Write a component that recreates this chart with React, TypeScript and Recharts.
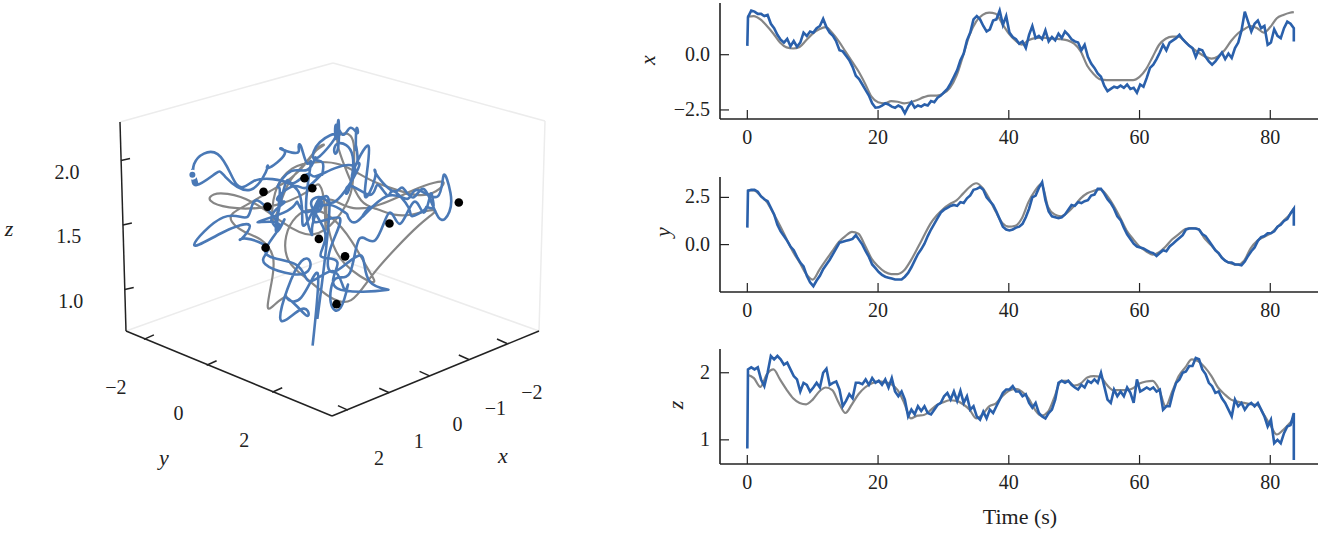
import React from 'react'
import { LineChart, Line, XAxis, YAxis, ReferenceLine, ReferenceDot } from 'recharts'

const SERIF = '"Liberation Serif", serif'
const INK = '#222222'
const BLUE = '#2a60ab'
const BLUE_3D = '#4a79b6'
const GRAY = '#868686'

const timeTicks = [0, 20, 40, 60, 80]

const grayTime = [
  0, 1, 2, 3, 4, 5, 6, 7, 8, 9, 10, 11, 12, 13, 14, 15, 16, 17, 18, 19,
  20, 21, 22, 23, 24, 25, 26, 27, 28, 29, 30, 31, 32, 33, 34, 35, 36, 37, 38, 39,
  40, 41, 42, 43, 44, 45, 46, 47, 48, 49, 50, 51, 52, 53, 54, 55, 56, 57, 58, 59,
  60, 61, 62, 63, 64, 65, 66, 67, 68, 69, 70, 71, 72, 73, 74, 75, 76, 77, 78, 79,
  80, 81, 82, 83, 83.6,
]

const grayX = [
  1.72, 1.75, 1.6, 1.3, 0.95, 0.55, 0.33, 0.28, 0.35, 0.65,
  0.95, 1.15, 1.25, 0.98, 0.6, 0.15, -0.3, -0.75, -1.3, -1.9,
  -2.15, -2.2, -2.1, -2.13, -2.2, -2.15, -2.05, -1.92, -1.85, -1.85,
  -1.75, -1.5, -0.95, -0.05, 0.9, 1.5, 1.8, 1.9, 1.85, 1.4,
  0.96, 0.65, 0.46, 0.65, 0.75, 0.77, 0.75, 0.72, 0.7, 0.65,
  0.5, 0.15, -0.5, -0.88, -1.12, -1.15, -1.15, -1.15, -1.15, -1.15,
  -1.0, -0.65, -0.1, 0.45, 0.72, 0.82, 0.82, 0.58, 0.32, 0.1,
  -0.08, -0.18, -0.08, 0.2, 0.62, 0.95, 1.15, 1.3, 1.2, 1.0,
  1.25, 1.65, 1.8, 1.9, 1.93,
]

const grayY = [
  2.87, 2.87, 2.6, 2.25, 1.65, 1.0, 0.3, -0.39, -0.95, -1.55,
  -1.85, -1.35, -0.83, -0.35, 0.14, 0.45, 0.67, 0.58, -0.05, -0.74,
  -1.15, -1.44, -1.56, -1.56, -1.36, -0.85, -0.21, 0.45, 1.1, 1.55,
  1.9, 2.15, 2.34, 2.7, 3.05, 3.25, 3.0, 2.43, 1.75, 1.15,
  0.95, 1.0, 1.4, 2.25, 2.85, 3.22, 2.0, 1.6, 1.5, 1.7,
  2.05, 2.45, 2.72, 2.85, 2.92, 2.6, 2.08, 1.45, 0.76, 0.3,
  -0.1, -0.35, -0.53, -0.4, -0.1, 0.28, 0.55, 0.82, 0.88, 0.82,
  0.3, -0.05, -0.45, -0.82, -1.0, -1.06, -0.85, -0.2, 0.2, 0.4,
  0.58, 0.9, 1.25, 1.6, 1.9,
]

const grayZ = [
  1.97, 1.92, 1.79, 1.98, 2.05, 1.9, 1.75, 1.62, 1.55, 1.53,
  1.6, 1.72, 1.78, 1.74, 1.55, 1.4, 1.53, 1.68, 1.78, 1.84,
  1.87, 1.86, 1.83, 1.74, 1.55, 1.32, 1.36, 1.37, 1.44, 1.52,
  1.56, 1.59, 1.58, 1.53, 1.45, 1.32, 1.38, 1.5, 1.54, 1.65,
  1.73, 1.76, 1.72, 1.62, 1.45, 1.36, 1.42, 1.64, 1.88, 1.88,
  1.81, 1.84, 1.93, 1.95, 1.94, 1.82, 1.74, 1.74, 1.74, 1.77,
  1.84, 1.87, 1.88, 1.75, 1.5, 1.72, 1.95, 2.08, 2.2, 2.17,
  2.08, 1.95, 1.78, 1.68, 1.6, 1.57, 1.55, 1.53, 1.52, 1.38,
  1.22, 1.08, 1.15, 1.25, 1.32,
]

// measured track: first and last entries are the outliers at t=0 and t=83.6
const blueX = [
  0.4,
  1.7, 2.0, 1.95, 1.85, 1.85, 1.75, 1.8, 1.4, 1.2, 0.9,
  0.68, 0.55, 0.72, 0.38, 0.62, 0.36, 0.55, 1.0, 0.85, 1.05,
  1.0, 1.2, 1.3, 1.62, 1.25, 1.0, 0.85, 0.6, 0.2, 0.15,
  -0.05, -0.25, -0.55, -0.95, -1.1, -1.35, -1.6, -1.85, -2.2, -2.4,
  -2.38, -2.3, -2.2, -2.25, -2.35, -2.4, -2.3, -2.38, -2.65, -2.35,
  -2.15, -2.4, -2.3, -2.35, -2.25, -2.3, -2.1, -2.15, -1.95, -1.85,
  -1.7, -1.55, -1.3, -1.0, -0.7, -0.25, 0.05, 0.65, 1.0, 1.6,
  1.75, 1.6, 1.3, 1.05, 1.15, 1.55, 1.6, 2.0, 1.35, 1.75,
  1.0, 0.8, 0.7, 0.5, 0.6, 0.3, 0.9, 1.3, 0.75, 0.85,
  0.7, 1.1, 0.6, 0.8, 0.65, 0.95, 0.75, 1.05, 0.9, 0.7,
  0.6, 0.55, 0.2, 0.45, -0.1, -0.4, -0.6, -0.85, -1.0, -1.4,
  -1.65, -1.55, -1.45, -1.5, -1.4, -1.5, -1.35, -1.55, -1.5, -1.72,
  -1.35, -1.45, -1.05, -0.6, -0.45, -0.2, 0.1, 0.45, 0.2, 0.55,
  0.65, 0.75, 0.9, 0.7, 0.55, 0.4, 0.3, -0.1, 0.25, 0.2,
  -0.1, -0.3, -0.45, -0.3, -0.1, 0.1, -0.2, 0.05, -0.15, 0.3,
  0.55, 1.1, 1.95, 1.5, 1.05, 1.4, 1.55, 1.2, 1.3, 0.45,
  0.55, 1.15, 0.85, 0.75, 1.2, 1.5, 1.4, 1.2,
  0.6,
]

const blueY = [
  0.9,
  2.85, 2.9, 2.9, 2.8, 2.55, 2.4, 2.3, 1.95, 1.6, 1.05,
  0.7, 0.45, 0.2, -0.1, -0.3, -0.65, -0.95, -1.15, -1.65, -2.0,
  -2.2, -1.9, -1.65, -1.3, -1.05, -0.8, -0.5, -0.2, 0.1, 0.15,
  0.2, 0.25, 0.3, 0.5, 0.25, 0.0, -0.35, -0.65, -1.05, -1.25,
  -1.45, -1.6, -1.7, -1.75, -1.8, -1.85, -1.85, -1.85, -1.7, -1.5,
  -1.2, -0.85, -0.5, -0.25, 0.05, 0.45, 0.8, 1.1, 1.4, 1.7,
  1.85, 1.95, 2.05, 2.1, 2.05, 2.25, 2.2, 2.45, 2.6, 2.9,
  2.95, 3.05, 2.9, 2.5, 2.3, 2.1, 1.75, 1.35, 0.95, 0.8,
  0.75, 0.8, 0.9, 0.95, 1.1, 1.45, 1.9, 2.5, 2.6, 3.0,
  3.3, 2.35, 1.75, 1.5, 1.45, 1.4, 1.45, 1.6, 1.85, 2.1,
  2.05, 2.25, 2.2, 2.3, 2.35, 2.6, 2.65, 2.95, 2.95, 2.7,
  2.4, 2.2, 1.9, 1.5, 1.3, 0.9, 0.55, 0.3, 0.05, -0.1,
  -0.15, -0.2, -0.3, -0.4, -0.45, -0.6, -0.45, -0.3, -0.35, -0.1,
  0.05, 0.2, 0.35, 0.5, 0.8, 0.85, 0.85, 0.85, 0.8, 0.55,
  0.45, 0.2, -0.05, -0.3, -0.45, -0.7, -0.85, -0.95, -0.95, -1.05,
  -1.05, -1.1, -0.9, -0.6, -0.35, -0.15, 0.2, 0.4, 0.45, 0.6,
  0.6, 0.7, 0.95, 1.05, 1.25, 1.35, 1.65, 1.9,
  1.0,
]

const blueZ = [
  0.87,
  2.05, 2.08, 2.05, 2.08, 1.9, 1.8, 2.0, 2.25, 2.2, 2.25,
  2.2, 2.12, 2.15, 2.05, 1.95, 1.9, 1.72, 1.85, 1.82, 1.72,
  1.78, 1.85, 1.78, 2.0, 2.06, 1.82, 1.85, 1.87, 1.75, 1.5,
  1.58, 1.68, 1.62, 1.85, 1.85, 1.83, 1.9, 1.82, 1.92, 1.85,
  1.88, 1.82, 1.9, 1.78, 1.92, 1.72, 1.65, 1.72, 1.6, 1.35,
  1.45, 1.38, 1.5, 1.43, 1.5, 1.4, 1.38, 1.45, 1.52, 1.55,
  1.65, 1.7, 1.6, 1.72, 1.58, 1.73, 1.55, 1.65, 1.45, 1.5,
  1.35, 1.3, 1.42, 1.32, 1.45, 1.4, 1.5, 1.6, 1.7, 1.75,
  1.75, 1.8, 1.72, 1.72, 1.65, 1.68, 1.55, 1.48, 1.55, 1.4,
  1.35, 1.32, 1.4, 1.45, 1.6, 1.85, 1.88, 1.85, 1.88, 1.82,
  1.78, 1.75, 1.82, 1.78, 1.88, 1.85, 1.9, 1.85, 2.0, 1.8,
  1.6, 1.55, 1.75, 1.65, 1.72, 1.65, 1.78, 1.7, 1.55, 1.9,
  1.72, 1.75, 1.78, 1.75, 1.78, 1.72, 1.75, 1.45, 1.5, 1.5,
  1.7, 1.85, 1.9, 2.0, 2.02, 2.1, 2.1, 2.22, 2.2, 2.05,
  1.98, 1.85, 1.8, 1.7, 1.72, 1.62, 1.55, 1.45, 1.35, 1.6,
  1.5, 1.55, 1.45, 1.52, 1.55, 1.5, 1.55, 1.45, 1.35, 1.2,
  1.3, 0.95, 1.0, 0.95, 1.1, 1.2, 1.22, 1.4,
  0.7,
]

// black waypoints, (x, y, z); the first two lie behind the measured track
const waypointX = [0.8, -0.5, 1.5, 1.0, 0.5, -1.1, -2.2, 0.0, -0.3, 1.8]
const waypointY = [1.02, 0.39, 0.67, 0.15, 0.88, 1.27, 2.06, 0.46, 0.89, 1.1]
const waypointZ = [2.0, 0.83, 1.94, 1.73, 1.88, 1.47, 1.585, 1.4, 1.27, 1.59]

const xTicks3d = [-2, -1, 0, 1, 2]
const yTicks3d = [-2, 0, 2]
const zTicks3d = [1.0, 1.5, 2.0]

// Axis-box corner values
const X_MAX = 2.38
const X_SPAN = 5.24
const Y_MIN = -2.59
const Y_MAX = 3.75
const Y_SPAN = 6.34
const Z_MIN = 0.67

// Projection of the 3D panel onto the page, with a little perspective so the
// back of the box shrinks toward (333, 405)
function project(x: number, y: number, z: number) {
  const a = x - X_MAX
  const b = y - Y_MAX
  const flat = -39.5 * a + 32.5 * b
  const px0 = 332 + flat * (1 + 0.018 * (z - Z_MIN))
  const py0 = 416 + 16.4 * a + 13.25 * b - 129 * (z - Z_MIN)
  const depth = (-a / X_SPAN - b / Y_SPAN) / 2
  const s = 1.07 - 0.14 * depth
  return { px: 333 + (px0 - 333) * s, py: 405 + (py0 - 405) * s }
}

const track = (xs: number[], ys: number[], zs: number[]) => xs.map((x, i) => project(x, ys[i], zs[i]))

const blueTime = blueX.map((_, i) => {
  if (i === 0) return 0
  if (i === blueX.length - 1) return 83.6
  return 0.1 + ((83.6 - 0.1) * (i - 1)) / (blueX.length - 3)
})

const series = (time: number[], values: number[]) => values.map((v, i) => ({ t: time[i], v }))

const labelStyle = { fontFamily: SERIF, fontSize: 20, fill: INK }

function Tick3dLabel({ x, y, text, italic }: { x: number; y: number; text: string; italic?: boolean }) {
  return (
    <ReferenceDot
      key={text + x}
      x={x}
      y={y}
      r={0}
      fill="none"
      stroke="none"
      label={{
        value: text,
        position: 'center',
        ...labelStyle,
        fontSize: italic ? 22 : 20,
        fontStyle: italic ? 'italic' : 'normal',
      }}
    />
  )
}

function Scene3d() {
  const inkLine = (a: { x: number; y: number }, b: { x: number; y: number }, key: string) => (
    <ReferenceLine key={key} segment={[a, b]} stroke={INK} strokeWidth={1.5} />
  )
  const paleLine = (a: { x: number; y: number }, b: { x: number; y: number }, key: string) => (
    <ReferenceLine key={key} segment={[a, b]} stroke="#ececec" strokeWidth={1.5} />
  )
  return (
    <div style={{ position: 'absolute', left: 0, top: 0 }}>
      <LineChart width={600} height={533} margin={{ top: 0, right: 0, bottom: 0, left: 0 }}>
        <XAxis type="number" dataKey="px" domain={[0, 600]} hide />
        <YAxis type="number" dataKey="py" domain={[0, 533]} reversed hide />

        {paleLine({ x: 120, y: 122 }, { x: 333, y: 63 }, 'p1')}
        {paleLine({ x: 333, y: 63 }, { x: 545, y: 121 }, 'p2')}
        {paleLine({ x: 545, y: 121 }, { x: 539, y: 331 }, 'p3')}
        {paleLine({ x: 126, y: 331 }, { x: 333, y: 257 }, 'p4')}
        {paleLine({ x: 333, y: 257 }, { x: 539, y: 331 }, 'p5')}

        {inkLine({ x: 120, y: 122 }, { x: 126, y: 331 }, 'zAxis')}
        {inkLine({ x: 126, y: 331 }, { x: 332, y: 416 }, 'yAxis')}
        {inkLine({ x: 332, y: 416 }, { x: 539, y: 331 }, 'xAxis')}

        {xTicks3d.map(v => {
          const p = project(v, Y_MAX, Z_MIN)
          return inkLine({ x: p.px, y: p.py }, { x: p.px - 10, y: p.py - 4.5 }, `xt${v}`)
        })}
        {yTicks3d.map(v => {
          const p = project(X_MAX, v, Z_MIN)
          return inkLine({ x: p.px, y: p.py }, { x: p.px + 10, y: p.py - 4.5 }, `yt${v}`)
        })}
        {zTicks3d.map(v => {
          const p = project(X_MAX, Y_MIN, v)
          return inkLine({ x: p.px, y: p.py }, { x: p.px + 9, y: p.py - 2 }, `zt${v}`)
        })}

        {xTicks3d.map(v => {
          const p = project(v, Y_MAX, Z_MIN)
          return Tick3dLabel({
            x: p.px + 31 + (v - 2) * 1.5,
            y: p.py + 48,
            text: String(v).replace('-', '\u2212'),
          })
        })}
        {yTicks3d.map(v => {
          const p = project(X_MAX, v, Z_MIN)
          return Tick3dLabel({ x: p.px - 28, y: p.py + 48, text: String(v).replace('-', '\u2212') })
        })}
        {zTicks3d.map(v => {
          const p = project(X_MAX, Y_MIN, v)
          return Tick3dLabel({ x: p.px - 54, y: p.py + 11, text: v.toFixed(1) })
        })}
        {Tick3dLabel({ x: 503, y: 455, text: 'x', italic: true })}
        {Tick3dLabel({ x: 164, y: 457, text: 'y', italic: true })}
        {Tick3dLabel({ x: 9, y: 228, text: 'z', italic: true })}

        <Line
          data={track(waypointX.slice(0, 2), waypointY.slice(0, 2), waypointZ.slice(0, 2))}
          dataKey="py"
          stroke="none"
          dot={{ r: 4.3, fill: '#000', stroke: 'none' }}
          isAnimationActive={false}
        />
        <Line
          data={track(grayX, grayY, grayZ)}
          dataKey="py"
          type="basis"
          stroke={GRAY}
          strokeWidth={2.2}
          dot={false}
          isAnimationActive={false}
        />
        <Line
          data={track(blueX, blueY, blueZ)}
          dataKey="py"
          type="natural"
          stroke={BLUE_3D}
          strokeWidth={2.6}
          dot={false}
          isAnimationActive={false}
        />
        <Line
          data={track(waypointX.slice(2), waypointY.slice(2), waypointZ.slice(2))}
          dataKey="py"
          stroke="none"
          dot={{ r: 4.3, fill: '#000', stroke: 'none' }}
          isAnimationActive={false}
        />
      </LineChart>
    </div>
  )
}

type PanelProps = {
  top: number
  plotHeight: number
  footer: number
  domain: [number, number]
  ticks: number[]
  fmt: (v: number) => string
  blue: number[]
  gray: number[]
  name: string
  nameX: number
  nameY: number
  xLabel?: string
}

function Panel({ top, plotHeight, footer, domain, ticks, fmt, blue, gray, name, nameX, nameY, xLabel }: PanelProps) {
  const xTick = ({ x, y, payload }: any) => (
    <g>
      <line x1={x} x2={x} y1={y} y2={y - 9} stroke={INK} strokeWidth={1.2} />
      <text x={x} y={y + 25} textAnchor="middle" {...labelStyle}>
        {payload.value}
      </text>
    </g>
  )
  const yTick = ({ x, y, payload }: any) => (
    <g>
      <line x1={x} x2={x + 9} y1={y} y2={y} stroke={INK} strokeWidth={1.2} />
      <text x={x - 10} y={y + 6} textAnchor="end" {...labelStyle}>
        {fmt(payload.value)}
      </text>
    </g>
  )
  return (
    <div style={{ position: 'absolute', left: 600, top }}>
      <LineChart width={718} height={plotHeight + footer} margin={{ top: 0, right: 0, bottom: 0, left: 0 }}>
        <XAxis
          type="number"
          dataKey="t"
          domain={[-4.18, 87.3]}
          ticks={timeTicks}
          interval={0}
          height={footer}
          tickSize={0}
          tickMargin={0}
          tickLine={false}
          tick={xTick}
          axisLine={{ stroke: INK, strokeWidth: 1.6 }}
          allowDataOverflow
          label={
            xLabel
              ? () => (
                  <text x={420} y={plotHeight + 60} textAnchor="middle" fontFamily={SERIF} fontSize={22} fill={INK}>
                    {xLabel}
                  </text>
                )
              : undefined
          }
        />
        <YAxis
          type="number"
          dataKey="v"
          domain={domain}
          ticks={ticks}
          interval={0}
          width={120}
          tickSize={0}
          tickMargin={0}
          tickLine={false}
          tick={yTick}
          axisLine={{ stroke: INK, strokeWidth: 1.6 }}
          allowDataOverflow
          label={() => (
            <text
              x={nameX}
              y={nameY}
              textAnchor="middle"
              dominantBaseline="middle"
              transform={`rotate(-90 ${nameX} ${nameY})`}
              fontFamily={SERIF}
              fontStyle="italic"
              fontSize={22}
              fill={INK}
            >
              {name}
            </text>
          )}
        />
        <Line
          data={series(grayTime, gray)}
          dataKey="v"
          type="monotone"
          stroke={GRAY}
          strokeWidth={2.2}
          dot={false}
          isAnimationActive={false}
        />
        <Line
          data={series(blueTime, blue)}
          dataKey="v"
          stroke={BLUE}
          strokeWidth={2.6}
          dot={false}
          isAnimationActive={false}
        />
      </LineChart>
    </div>
  )
}

const fixed1 = (v: number) => v.toFixed(1).replace('-', '\u2212')

export default function App() {
  return (
    <div style={{ position: 'absolute', left: 0, top: 0, width: 1325, height: 533, background: '#fff', overflow: 'hidden' }}>
      <Scene3d />
      <Panel
        top={3}
        plotHeight={116}
        footer={40}
        domain={[-2.91, 2.34]}
        ticks={[-2.5, 0]}
        fmt={fixed1}
        blue={blueX}
        gray={grayX}
        name="x"
        nameX={50}
        nameY={57}
      />
      <Panel
        top={177}
        plotHeight={115}
        footer={40}
        domain={[-2.51, 3.58]}
        ticks={[0, 2.5]}
        fmt={fixed1}
        blue={blueY}
        gray={grayY}
        name="y"
        nameX={65}
        nameY={55}
      />
      <Panel
        top={349}
        plotHeight={115}
        footer={70}
        domain={[0.64, 2.354]}
        ticks={[1, 2]}
        fmt={v => String(v)}
        blue={blueZ}
        gray={grayZ}
        name="z"
        nameX={78}
        nameY={56}
        xLabel="Time (s)"
      />
    </div>
  )
}
